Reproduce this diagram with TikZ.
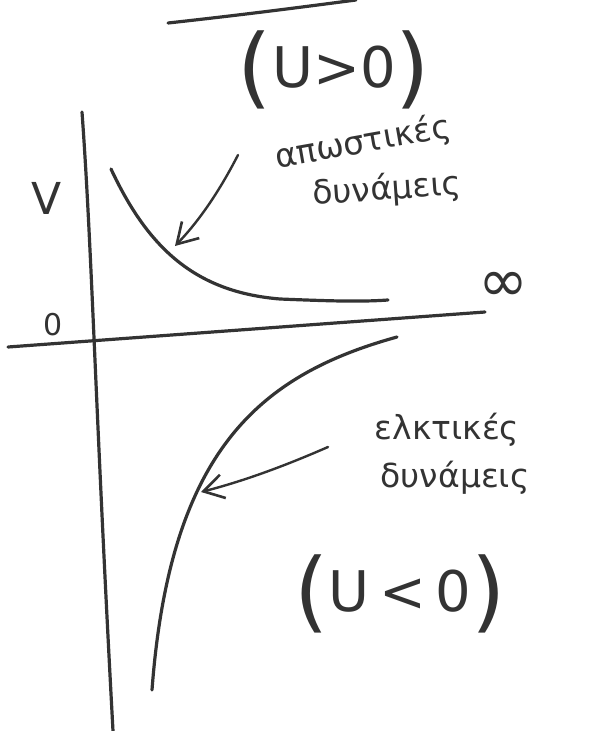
\documentclass[tikz,border=0pt]{standalone}
\usepackage{fontspec}
\setmainfont{DejaVu Sans}
\usetikzlibrary{arrows.meta}

\newcommand{\bigparen}[1]{{\fontsize{88}{88}\selectfont#1}}

\begin{document}
\begin{tikzpicture}[
  x=1pt, y=-1pt,
  ink/.style={draw=black!80, line width=3.2pt, line cap=round},
  arr/.style={draw=black!80, line width=2.4pt, line cap=round,
    -{Straight Barb[length=20pt, width=24pt, line width=2.6pt]}},
  word/.style={text=black!80, font=\fontsize{33}{35}\selectfont, inner sep=0pt},
  sign/.style={text=black!80, font=\fontsize{56}{58}\selectfont, inner sep=0pt},
  axlab/.style={text=black!80, font=\fontsize{30}{32}\selectfont, inner sep=0pt}
]
\path[use as bounding box] (0,0) rectangle (615,731);

% stroke left over at the top
\coordinate (top a) at (168,23);
\coordinate (top b) at (356,0);
\draw[ink] (top a) .. controls (250,14) and (310,6) .. (top b);

% axes
\coordinate (vtop) at (82,112);
\coordinate (vbot) at (113,731);
\coordinate (hleft) at (8,347);
\coordinate (hright) at (485,312);
\draw[ink] (vtop) .. controls (92,250) and (95,400) .. (vbot);
\draw[ink] (hleft) -- (hright);

\node[axlab, font=\fontsize{44}{44}\selectfont] (vlab) at (47,198) {V};
\node[axlab] (zero) at (53,325) {0};
\node[axlab, font=\fontsize{60}{60}\selectfont] (inf) at (503,287) {∞};

% repulsive branch
\coordinate (rep start) at (111,169);
\coordinate (rep end) at (388,300);
\draw[ink] (rep start) .. controls (148,248) and (195,292) .. (280,299)
  .. controls (330,301) and (360,302) .. (rep end);

% attractive branch
\coordinate (att start) at (397,337);
\coordinate (att end) at (152,690);
\draw[ink] (att start) .. controls (260,375) and (170,450) .. (att end);

% labels
\node[sign] (repsign) at (334,70)
  {\bigparen{(}\raisebox{10pt}{U>0}\bigparen{)}};
\node[word, rotate=10] (repword) at (363,143) {απωστικές};
\node[word, rotate=4] (repforce) at (387,190) {δυνάμεις};

\node[word] (attword) at (447,430) {ελκτικές};
\node[word] (attforce) at (455,478) {δυνάμεις};
\node[sign] (attsign) at (400,594)
  {\bigparen{(}\raisebox{10pt}{U\,<\,0}\bigparen{)}};

% pointers
\coordinate (rep from) at (238,155);
\coordinate (rep tip) at (175,246);
\coordinate (att from) at (328,447);
\coordinate (att tip) at (201,492);
\draw[arr] (rep from) .. controls (220,190) and (200,220) .. (rep tip);
\draw[arr] (att from) .. controls (280,468) and (240,482) .. (att tip);
\end{tikzpicture}
\end{document}
